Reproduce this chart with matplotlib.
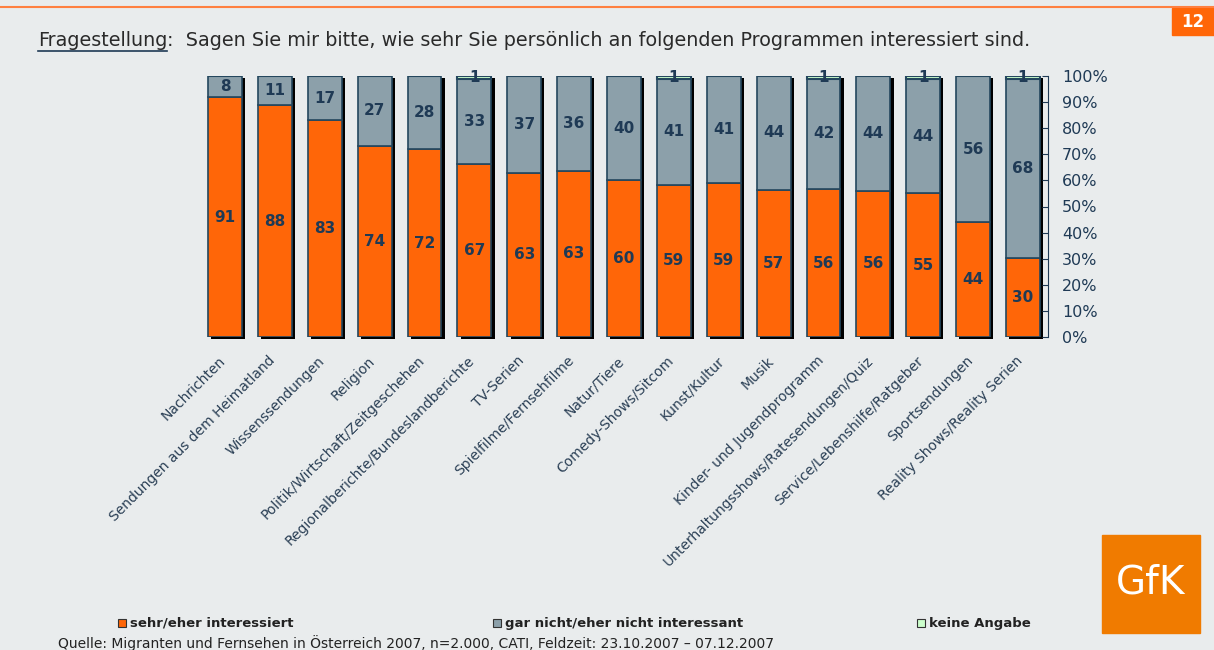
import numpy as np
import matplotlib.pyplot as plt
import matplotlib.transforms as mtransforms
from matplotlib.patches import Rectangle

categories = ['Nachrichten', 'Sendungen aus dem Heimatland', 'Wissenssendungen', 'Religion',
              'Politik/Wirtschaft/Zeitgeschehen', 'Regionalberichte/Bundeslandberichte',
              'TV-Serien', 'Spielfilme/Fernsehfilme', 'Natur/Tiere', 'Comedy-Shows/Sitcom',
              'Kunst/Kultur', 'Musik', 'Kinder- und Jugendprogramm',
              'Unterhaltungsshows/Ratesendungen/Quiz', 'Service/Lebenshilfe/Ratgeber',
              'Sportsendungen', 'Reality Shows/Reality Serien']
interessiert = [91, 88, 83, 74, 72, 67, 63, 63, 60, 59, 59, 57, 56, 56, 55, 44, 30]
nicht_interessant = [8, 11, 17, 27, 28, 33, 37, 36, 40, 41, 41, 44, 42, 44, 44, 56, 68]
keine_angabe = [0, 0, 0, 0, 0, 1, 0, 0, 0, 1, 0, 0, 1, 0, 1, 0, 1]

bg = '#e9eced'
orange = '#ff6608'
grey = '#8ca0aa'
green = '#ccffcc'
edge = '#24475e'
navy = '#1f3a55'

a = np.array(interessiert, float)
b = np.array(nicht_interessant, float)
c = np.array(keine_angabe, float)
tot = a + b + c
# stacked to 100 %
a_p = a / tot * 100
b_p = b / tot * 100
c_p = c / tot * 100
x = np.arange(len(categories))
w = 0.68

fig = plt.figure(figsize=(12.14, 6.5), dpi=100, facecolor=bg)
ax = fig.add_axes([200 / 1214, 313 / 650, 848 / 1214, 261 / 650])
ax.set_facecolor(bg)

# shadow
ax.bar(x + 0.065, 100, w, bottom=-0.6, color='black', zorder=1, clip_on=False)
ax.bar(x, a_p, w, color=orange, edgecolor=edge, linewidth=1.2, zorder=2)
ax.bar(x, b_p, w, bottom=a_p, color=grey, edgecolor=edge, linewidth=1.2, zorder=2)
ax.bar(x, c_p, w, bottom=a_p + b_p, color=green, edgecolor=edge, linewidth=1.5, zorder=3)

lab = dict(ha='center', va='center', fontsize=11, fontweight='bold', color=navy, zorder=5)
for i in x:
    ax.text(i, a_p[i] / 2, str(interessiert[i]), **lab)
    ax.text(i, a_p[i] + b_p[i] / 2, str(nicht_interessant[i]), **lab)
    if keine_angabe[i]:
        ax.text(i, 99.5, str(keine_angabe[i]), **lab)

ax.set_xlim(-0.5, len(categories) - 0.5)
ax.set_ylim(0, 100)
ax.set_xticks(x)
ax.set_xticklabels(categories, rotation=45, ha='right', rotation_mode='anchor',
                   fontsize=10, color='#2a3f55')
ax.tick_params(axis='x', length=0, pad=12)
shift = mtransforms.ScaledTranslation(-7 / 100, 0, fig.dpi_scale_trans)
for t in ax.get_xticklabels():
    t.set_transform(t.get_transform() + shift)
ax.yaxis.tick_right()
ax.set_yticks(np.arange(0, 101, 10))
ax.set_yticklabels([f'{v}%' for v in range(0, 101, 10)], fontsize=11.5, color=navy)
ax.tick_params(axis='y', direction='in', length=4, color=navy, pad=10)
for s in ['top', 'left', 'bottom']:
    ax.spines[s].set_visible(False)
ax.spines['right'].set_color(navy)

# header
fig.add_artist(plt.Line2D([0, 1], [1 - 7 / 650, 1 - 7 / 650], color='#ff8040', lw=1.5))
fig.patches.append(Rectangle((1172 / 1214, 1 - 35 / 650), 42 / 1214, 27 / 650,
                             transform=fig.transFigure, color=orange))
fig.text(1193 / 1214, 1 - 22 / 650, '12', color='white', fontsize=12, fontweight='bold',
         ha='center', va='center')
t1 = fig.text(38 / 1214, 1 - 41 / 650, 'Fragestellung', fontsize=13.8, color='#2a2a2a',
              va='center')
fig.canvas.draw()
bb = t1.get_window_extent()
fig.add_artist(plt.Line2D([bb.x0 / 1214, bb.x1 / 1214], [1 - 51 / 650, 1 - 51 / 650],
                          color='#1f3a55', lw=1.2))
fig.text(bb.x1 / 1214, 1 - 41 / 650,
         ':  Sagen Sie mir bitte, wie sehr Sie persönlich an folgenden Programmen interessiert sind.',
         fontsize=13.8, color='#2a2a2a', va='center')

# legend
leg = [(118, orange, 'sehr/eher interessiert'),
       (493, grey, 'gar nicht/eher nicht interessant'),
       (917, green, 'keine Angabe')]
for px, col, txt in leg:
    fig.patches.append(Rectangle((px / 1214, 1 - 627 / 650), 8 / 1214, 8 / 650,
                                 transform=fig.transFigure, facecolor=col,
                                 edgecolor='#333', lw=0.8))
    fig.text((px + 12) / 1214, 1 - 623 / 650, txt, fontsize=9.5, fontweight='bold',
             color='#222', va='center')
fig.text(58 / 1214, 1 - 643 / 650,
         'Quelle: Migranten und Fernsehen in Österreich 2007, n=2.000, CATI, Feldzeit: 23.10.2007 – 07.12.2007',
         fontsize=10, color='#222', va='center')

# logo
fig.patches.append(Rectangle((1102 / 1214, 1 - 633 / 650), 98 / 1214, 98 / 650,
                             transform=fig.transFigure, color='#f07b00'))
fig.text(1151 / 1214, 1 - 582 / 650, 'GfK', color='white', fontsize=28,
         ha='center', va='center')

fig.savefig('out.png', dpi=100, facecolor=bg)
